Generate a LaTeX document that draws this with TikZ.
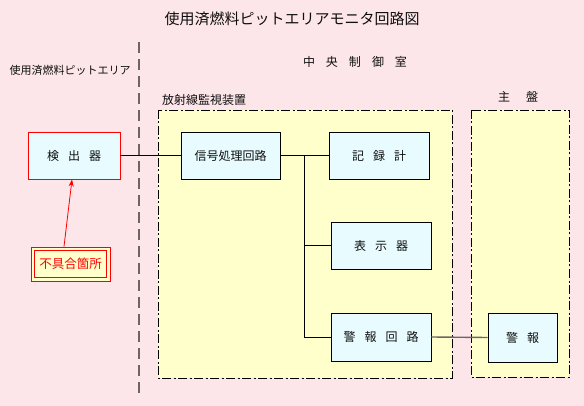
\documentclass[tikz,border=0pt]{standalone}
\usepackage{fontspec}
\setmainfont{Noto Sans CJK JP}
\usetikzlibrary{arrows.meta}
\definecolor{bgpink}{RGB}{253,230,233}
\definecolor{panel}{RGB}{255,255,204}
\definecolor{boxfill}{RGB}{232,252,255}
\definecolor{txt}{RGB}{15,15,15}
\definecolor{sepgray}{RGB}{110,100,100}
\tikzset{
  unitbox/.style={draw=black, fill=boxfill, line width=0.9pt, text=txt, inner sep=0pt,
    font=\fontsize{12}{12}\selectfont},
  panelbox/.style={draw=black, fill=panel, line width=0.9pt,
    dash pattern=on 9pt off 2.5pt on 2pt off 2.5pt},
  lbl/.style={text=txt, inner sep=0pt},
  wire/.style={draw=black, line width=0.9pt},
}
\newcommand{\gapsp}[1][8pt]{\hspace{#1}}
\begin{document}
\begin{tikzpicture}[x=1pt,y=-1pt]
\useasboundingbox (0,0) rectangle (584,406);
\fill[bgpink] (0,0) rectangle (584,406);
% panels
\draw[panelbox] (158,110) rectangle (452,378);
\draw[panelbox] (471,110) rectangle (569,377);
% separator
\draw[sepgray, line width=1.6pt, dash pattern=on 11pt off 6pt] (139,42) -- (139,394);
% labels
\node[lbl, font=\fontsize{15}{15}\selectfont] (title) at (292,19) {使用済燃料ピットエリアモニタ回路図};
\node[lbl, font=\fontsize{11}{11}\selectfont] (area) at (70,70) {使用済燃料ピットエリア};
\node[lbl, font=\fontsize{12}{12}\selectfont] (ccr) at (355,62) {中\gapsp[11pt]央\gapsp[11pt]制\gapsp[11pt]御\gapsp[11pt]室};
\node[lbl, font=\fontsize{12}{12}\selectfont, anchor=west] (rms) at (162,100) {放射線監視装置};
\node[lbl, font=\fontsize{12}{12}\selectfont] (mb) at (518,97) {主\gapsp[16pt]盤};
% boxes
\node[unitbox, draw=red, minimum width=92pt, minimum height=47pt] (det) at (74,155.5) {検\gapsp[9pt]出\gapsp[9pt]器};
\node[unitbox, minimum width=99pt, minimum height=47pt] (sig) at (230.5,155.5) {信号処理回路};
\node[unitbox, minimum width=100pt, minimum height=47pt] (rec) at (379,155.5) {記\gapsp[9pt]録\gapsp[9pt]計};
\node[unitbox, minimum width=100pt, minimum height=47pt] (disp) at (381,245.5) {表\gapsp[9pt]示\gapsp[9pt]器};
\node[unitbox, minimum width=100pt, minimum height=48pt] (alm) at (381,337) {警\gapsp[9pt]報\gapsp[9pt]回\gapsp[9pt]路};
\node[unitbox, minimum width=69pt, minimum height=49pt] (bell) at (522.5,337.5) {警\gapsp[9pt]報};
% fault box
\node[draw=red, fill=panel, line width=0.9pt, minimum width=79pt, minimum height=34pt, inner sep=0pt,
  text=red, font=\fontsize{12.5}{12.5}\selectfont] (fault) at (70.5,264) {不具合箇所};
\draw[red, line width=0.9pt] ([shift={(4pt,-4pt)}]fault.north west) rectangle ([shift={(-4pt,4pt)}]fault.south east);
% connectors
\coordinate (j) at (304,155.5);
\draw[wire] (det.east) -- (sig.west);
\draw[wire] (sig.east) -- (rec.west);
\draw[wire] (j) |- (alm.west);
\draw[wire] (j |- disp.west) -- (disp.west);
\draw[sepgray, line width=1.4pt] (alm.east) -- (bell.west);
\draw[red, line width=0.8pt, -{Stealth[length=7pt,width=5pt]}] ([xshift=-6.5pt]fault.north) -- ([xshift=-2pt]det.south);
\end{tikzpicture}
\end{document}
